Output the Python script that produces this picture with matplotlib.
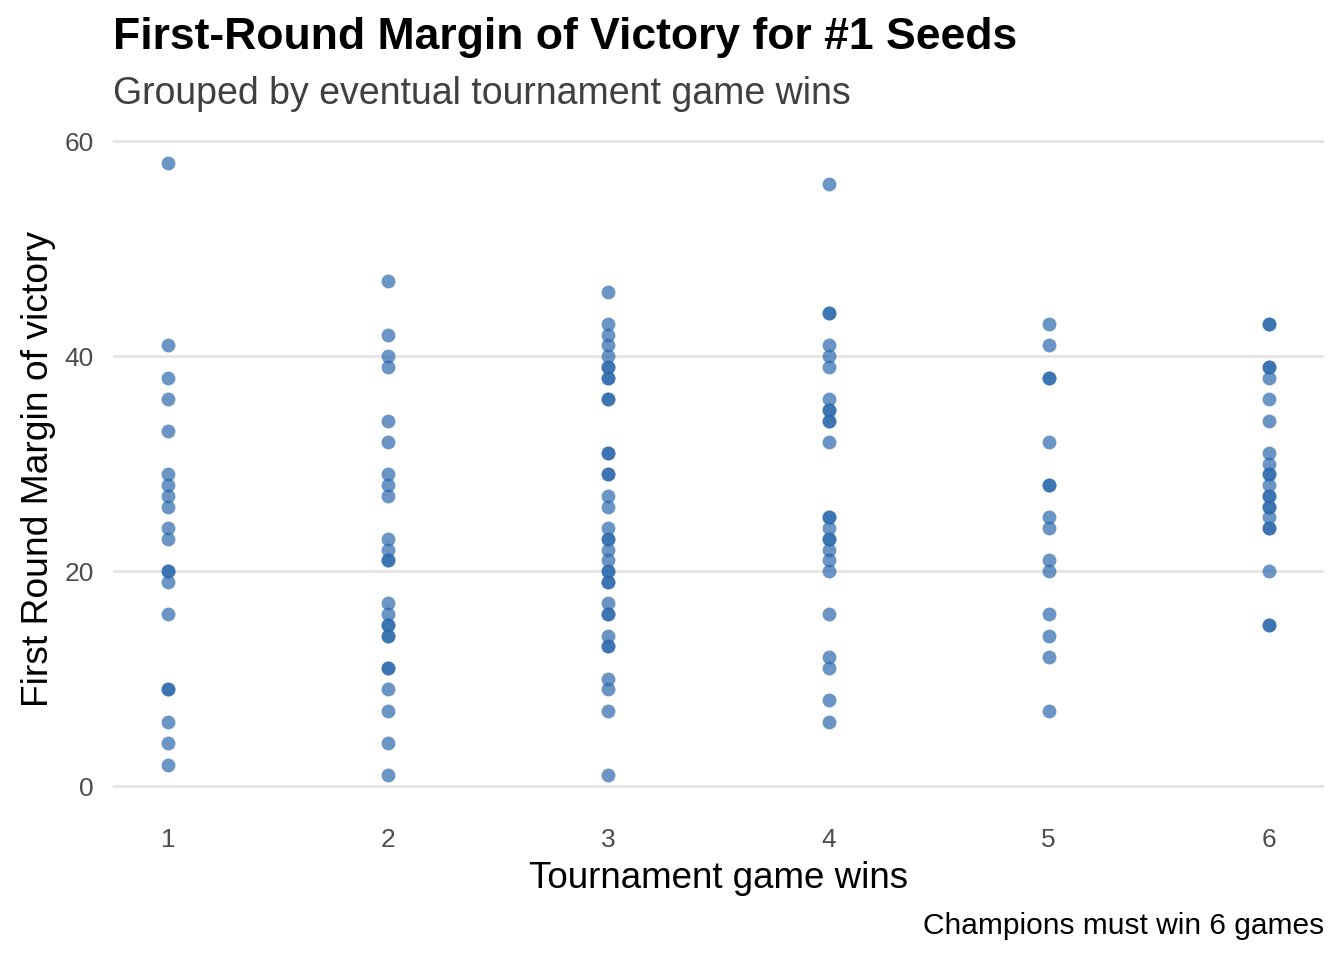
import numpy as np
import matplotlib.pyplot as plt

plt.rcParams["font.family"] = ["Liberation Sans", "DejaVu Sans"]

# first-round margin of victory, grouped by eventual tournament wins
wins_1 = [58, 41, 38, 36, 33, 29, 28, 27, 26, 24, 23, 20, 20, 19, 16, 9, 9, 6, 4, 2]
wins_2 = [47, 42, 40, 39, 34, 32, 29, 28, 27, 23, 22, 21, 21, 17, 16, 15, 15,
          14, 14, 11, 11, 9, 7, 4, 1]
wins_3 = [46, 43, 42, 41, 40, 39, 39, 38, 38, 36, 36, 31, 31, 29, 29, 27, 26,
          24, 23, 23, 22, 21, 20, 20, 19, 19, 17, 16, 16, 14, 13, 13, 10, 9, 7, 1]
wins_4 = [56, 44, 44, 41, 40, 39, 36, 35, 35, 34, 34, 32, 25, 25, 24, 23, 23,
          22, 21, 20, 16, 12, 11, 8, 6]
wins_5 = [43, 41, 38, 38, 32, 28, 28, 25, 24, 21, 20, 16, 14, 12, 7]
wins_6 = [43, 43, 39, 39, 38, 36, 34, 31, 30, 29, 29, 28, 27, 27, 26, 26, 25,
          24, 24, 20, 15, 15]

groups = [wins_1, wins_2, wins_3, wins_4, wins_5, wins_6]
xticks = [1, 2, 3, 4, 5, 6]
yticks = [0, 20, 40, 60]


def main():
    fig = plt.figure(figsize=(13.44, 9.6), dpi=100)
    ax = fig.add_axes([0.0841, 0.1604, 0.9009, 0.7021])

    for w, vals in zip(xticks, groups):
        ax.scatter(np.full(len(vals), w), vals, s=100, color="#2b68ab",
                   alpha=0.7, linewidths=0, zorder=3)

    ax.set_xlim(0.75, 6.25)
    ax.set_ylim(-1.85, 60.85)
    ax.set_xticks(xticks)
    ax.set_yticks(yticks)
    ax.tick_params(length=0, labelsize=19, labelcolor="#4d4d4d")
    ax.tick_params(axis="x", pad=16)
    ax.tick_params(axis="y", pad=14)
    ax.grid(axis="y", color="#e5e5e5", linewidth=2, zorder=0)
    for s in ax.spines.values():
        s.set_visible(False)

    ax.set_xlabel("Tournament game wins", fontsize=26.5, labelpad=6)
    ax.set_ylabel("First Round Margin of victory", fontsize=26.8, labelpad=6)

    fig.text(0.0841, 0.961, "First-Round Margin of Victory for #1 Seeds",
             fontsize=32, fontweight="bold", va="center")
    fig.text(0.0841, 0.902, "Grouped by eventual tournament game wins",
             fontsize=27, color="#404040", va="center")
    fig.text(0.985, 0.035, "Champions must win 6 games", fontsize=21.5,
             ha="right", va="center")

    fig.savefig("out.png", dpi=100)


if __name__ == "__main__":
    main()
